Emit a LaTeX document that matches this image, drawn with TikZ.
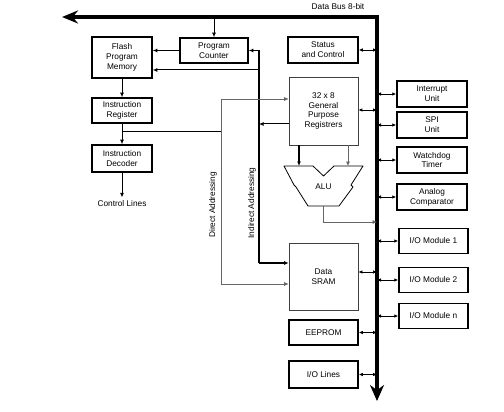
\documentclass[tikz,border=0pt]{standalone}
\usepackage{fontspec}
\setmainfont{Liberation Sans}
\usepackage{tikz}
\usetikzlibrary{arrows.meta}

\tikzset{
  blk/.style={draw, line width=1.5pt, align=center, inner sep=0pt},
  reg/.style={draw=black!75, line width=0.7pt, align=center, inner sep=0pt},
  arr/.style={-{Latex[length=4.5pt,width=4pt]}, line width=1pt},
  garr/.style={-{Latex[length=4.5pt,width=4pt]}, line width=0.6pt, draw=black!60},
  dbl/.style={{Latex[length=4pt,width=3.5pt]}-{Latex[length=4pt,width=3.5pt]}, line width=0.9pt},
  bus/.style={line width=3.6pt, line join=miter,
    {Stealth[length=16pt,width=13pt]}-{Stealth[length=16pt,width=14pt]}}
}

\begin{document}
\begin{tikzpicture}[x=1pt, y=-1pt, font=\fontsize{8.3}{9.8}\selectfont]
  \useasboundingbox (0,0) rectangle (504,412);
  % data bus
  \coordinate (busL) at (62,17);
  \coordinate (busC) at (377,17);
  \coordinate (busB) at (377,401);
  \draw[bus] (busL) -- (busC) -- (busB);
  \node (lbl) at (338,7) {Data Bus 8-bit};

  % left column
  \node[blk, minimum width=60, minimum height=41] (flash) at (122,57.5) {Flash\\Program\\Memory};
  \node[blk, minimum width=60, minimum height=25] (ir) at (122,110.5) {Instruction\\Register};
  \node[blk, minimum width=60, minimum height=27] (id) at (122,158.5) {Instruction\\Decoder};
  \node (ctl) at (122,204) {Control Lines};
  \node[blk, minimum width=68, minimum height=25] (pc) at (214,50.5) {Program\\Counter};

  % middle column
  \node[blk, minimum width=70, minimum height=26] (stat) at (323,50) {Status\\and Control};
  \node[reg, minimum width=69, minimum height=68] (gpr) at (323.5,111) {32 x 8\\General\\Purpose\\Registrers};
  \node[reg, minimum width=69, minimum height=67] (sram) at (323.5,276.5) {Data\\SRAM};
  \node[blk, minimum width=69, minimum height=25] (eep) at (323.5,332.5) {EEPROM};
  \node[blk, minimum width=69, minimum height=27] (iol) at (323.5,374.5) {I/O Lines};

  % ALU
  \draw[line width=0.8pt, line join=round] (284,166) -- (313,166) -- (323.5,176) -- (334,166)
    -- (363,166) -- (351,185) -- (353,187) -- (339,206) -- (308,206) -- (296,187)
    -- (294,185) -- cycle;
  \node (alu) at (323.5,187) {ALU};
  \coordinate (aluout) at (323.5,206);

  % right column
  \foreach \y/\n/\t in {94/intr/{Interrupt\\Unit}, 125/spi/{SPI\\Unit},
      160/wdt/{Watchdog\\Timer}, 197/anc/{Analog\\Comparator}}
    \node[blk, minimum width=70, minimum height=26] (\n) at (432,\y) {\t};
  \foreach \y/\n/\t in {241/io1/{I/O Module 1}, 280/io2/{I/O Module 2}, 316/ion/{I/O Module n}}
    \node[blk, minimum width=69, minimum height=25] (\n) at (433.5,\y) {\t};

  % bus taps
  \foreach \n in {intr,spi,wdt,anc,io1,io2,ion}
    \draw[dbl] (\n.west -| busC) -- (\n.west);
  \foreach \n in {stat,eep,iol}
    \draw[dbl] (\n.east) -- (\n.east -| busC);
  \draw[dbl] ([yshift=1pt]gpr.east) -- ([yshift=1pt]gpr.east -| busC);
  \draw[dbl, line width=0.7pt] ([yshift=4.5pt]sram.east) -- ([yshift=4.5pt]sram.east -| busC);

  % program flow
  \draw[arr] (pc.north |- busC) -- (pc.north);
  \draw[arr] (pc.west) -- (pc.west -| flash.east);
  \draw[arr] (flash) -- (ir);
  \draw[arr] (ir) -- (id);
  \draw[arr] (id) -- (ctl);

  % indirect addressing
  \coordinate (ind) at (259,263);
  \draw[arr, line width=1.2pt] (ind) |- (pc.east);
  \draw[arr] (ind |- 0,70) -- (flash.east |- 0,70);
  \draw[arr, line width=1.2pt] (ind) -- (ind -| sram.west);
  \draw[arr] (gpr.west |- 0,124) -- (ind |- 0,124);
  \node[rotate=90] (indl) at (252,203) {Indirect Addressing};

  % direct addressing
  \coordinate (dir) at (221,132);
  \draw[line width=1pt] (ir.south |- dir) -- (dir);
  \draw[garr] (dir) |- (gpr.west |- 0,99);
  \draw[garr] (dir) |- (sram.west |- 0,284);
  \node[rotate=90] (dirl) at (213,205) {Direct Addressing};

  % registers to ALU and back to bus
  \draw[arr, line width=1.3pt] (299,145) -- (299,166);
  \draw[garr] (348,145) -- (348,166);
  \draw[garr] (aluout) |- (busC |- 0,222);
\end{tikzpicture}
\end{document}
